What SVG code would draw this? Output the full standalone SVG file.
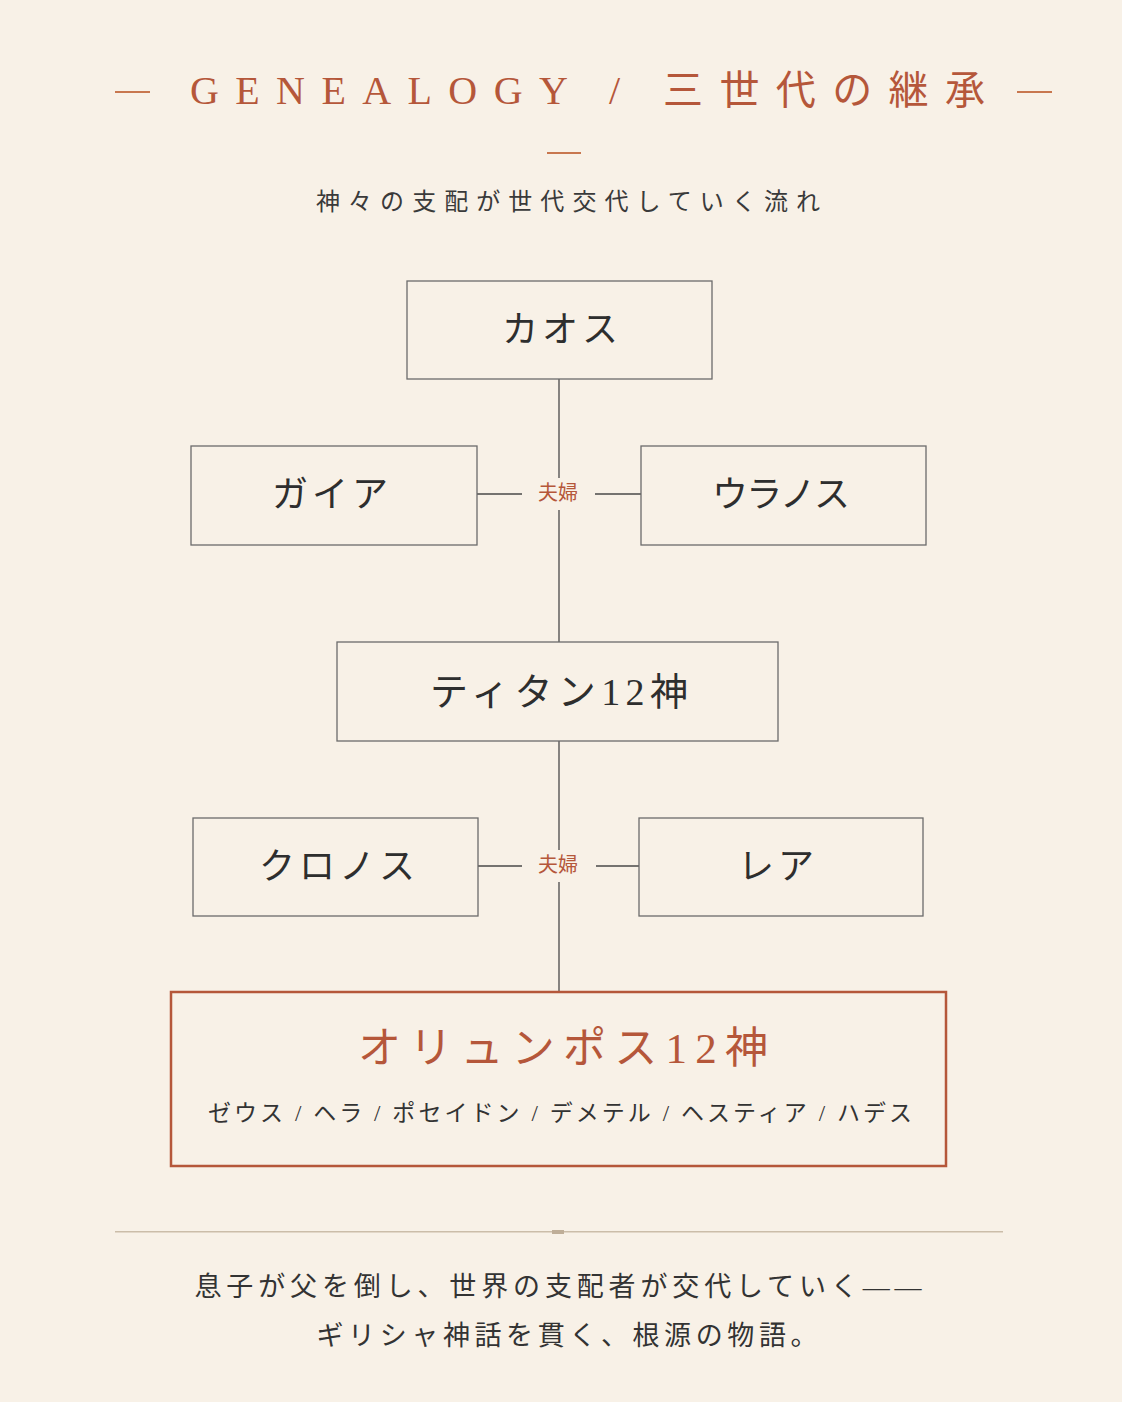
<svg xmlns="http://www.w3.org/2000/svg" width="1122" height="1402" viewBox="0 0 1122 1402">
<defs>
<style>
text{font-family:"Liberation Serif","Noto Sans CJK JP",serif;text-anchor:middle;dominant-baseline:central}
.box{fill:none;stroke:#6b6b6b;stroke-width:1.3}
.name{font-size:36px;fill:#2e2e2e;letter-spacing:4px}
.acc{fill:#b5573a}
.ln{stroke:#4a4a4a;stroke-width:1.3;fill:none}
.cp{font-size:20px;fill:#b5573a}
.body{font-size:27px;fill:#333}
</style>
</defs>
<rect width="1122" height="1402" fill="#f8f1e7"/>
<g id="header">
<rect x="115" y="91" width="35" height="2" fill="#c8774f"/>
<rect x="1017" y="91" width="35" height="2" fill="#c8774f"/>
<text x="190" y="90" style="font-size:40px;text-anchor:start" class="acc" textLength="795" lengthAdjust="spacing">GENEALOGY / 三世代の継承</text>
<rect x="547" y="152" width="34" height="2" fill="#c8774f"/>
<text x="568" y="202" style="font-size:24px;fill:#3a3a3a" textLength="504" lengthAdjust="spacing">神々の支配が世代交代していく流れ</text>
</g>
<g id="connectors">
<path class="ln" d="M559 379V478M559 510V642M477 494H522M595 494H641M559 741V850M559 882V991M478 866H522M596 866H639"/>
<text class="cp" x="558" y="493">夫婦</text>
<text class="cp" x="558" y="865">夫婦</text>
</g>
<g id="chaos"><rect class="box" x="407" y="281" width="305" height="98"/><text class="name" x="562" y="330">カオス</text></g>
<g id="gaia"><rect class="box" x="191" y="446" width="286" height="99"/><text class="name" x="332" y="495">ガイア</text></g>
<g id="uranus"><rect class="box" x="641" y="446" width="285" height="99"/><text class="name" x="781" y="495" textLength="138" lengthAdjust="spacing" style="letter-spacing:0">ウラノス</text></g>
<g id="titans"><rect class="box" x="337" y="642" width="441" height="99"/><text class="name" x="559" y="692" style="letter-spacing:0;font-size:38px" textLength="258" lengthAdjust="spacing">ティタン12神</text></g>
<g id="cronus"><rect class="box" x="193" y="818" width="285" height="98"/><text class="name" x="339" y="867">クロノス</text></g>
<g id="rhea"><rect class="box" x="639" y="818" width="284" height="98"/><text class="name" x="778" y="867">レア</text></g>
<g id="olympians">
<rect x="171" y="992" width="775" height="174" fill="none" stroke="#b5573a" stroke-width="2.5"/>
<text x="563" y="1048" class="acc" style="font-size:43px" textLength="410" lengthAdjust="spacing">オリュンポス12神</text>
<text x="560" y="1113" style="font-size:23px;fill:#333" textLength="704" lengthAdjust="spacing">ゼウス / ヘラ / ポセイドン / デメテル / ヘスティア / ハデス</text>
</g>
<g id="footer">
<rect x="115" y="1231" width="888" height="1.5" fill="#cbbda9"/>
<rect x="552" y="1230" width="12" height="4" fill="#bfae98"/>
<text class="body" x="558" y="1287" textLength="727" lengthAdjust="spacing">息子が父を倒し、世界の支配者が交代していく——</text>
<text class="body" x="567" y="1336" textLength="501" lengthAdjust="spacing">ギリシャ神話を貫く、根源の物語。</text>
</g>
</svg>
